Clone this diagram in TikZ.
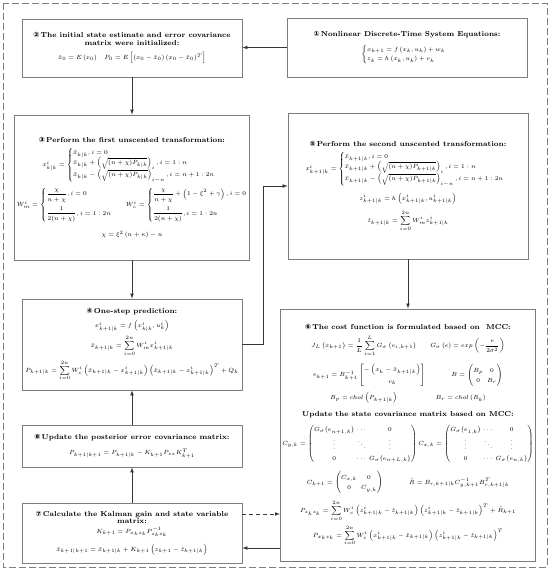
\documentclass[tikz,border=0pt]{standalone}
\usepackage{amsmath}
\usepackage{amssymb}
\usepackage{mathtools}
\usepackage{fontspec}
\usepackage{tikz}
\newfontfamily\circFont{DejaVu Sans}
\definecolor{boxColor}{RGB}{125,125,125}
\definecolor{arrowColor}{RGB}{55,55,55}
\newcommand{\boxFont}{\fontsize{6.2}{7.6}\selectfont\setlength{\arraycolsep}{2pt}\renewcommand{\arraystretch}{1.4}}
\newcommand{\titleFont}{\fontsize{7.2}{8.6}\selectfont\bfseries}
\tikzstyle{flowChart} = [x = 1pt, y = -1pt]
\tikzstyle{stepBoxStyle} = [draw=boxColor, fill=white, line width=0.8pt, inner xsep=2pt, inner ysep=2pt, align=center, font=\boxFont]
\tikzstyle{flowArrow} = [draw=arrowColor, line width=0.7pt, -latex]
\tikzstyle{feedbackArrow} = [flowArrow, dash pattern=on 4pt off 3pt]
\tikzstyle{outerFrame} = [draw=boxColor, line width=0.8pt, dash pattern=on 7pt off 3pt]
\newcommand{\stepTitle}[2]{{\titleFont{\circFont #1}\,#2}}
\newcommand{\gEntry}[1]{G_\sigma\!\left(e_{#1}\right)}
\newcommand{\diagMatrix}[2]{\setlength{\arraycolsep}{1pt}\begin{pmatrix}\gEntry{#1} & \cdots & 0\\ \vdots & \ddots & \vdots\\ 0 & \cdots & \gEntry{#2}\end{pmatrix}}
\newcommand{\stepBox}[6]{\node [stepBoxStyle, minimum width = #4pt, minimum height = #5pt] (#1) at (#2, #3) {#6};}

\begin{document}
\begin{tikzpicture}[flowChart]
  \useasboundingbox (0,0) rectangle (550,579);
  \draw [outerFrame] (3,3) rectangle (547,567);

  % left column
  \stepBox{init}{132}{48}{220}{58}{\stepTitle{②}{The initial state estimate and error covariance}\\ {\titleFont matrix were initialized:}\\[7pt]
    $\hat{x}_0=E\left(x_0\right)\quad P_0=E\left[\left(x_0-\hat{x}_0\right)\left(x_0-\hat{x}_0\right)^T\right]$}
  \stepBox{firstUT}{132}{187.5}{220}{145}{\stepTitle{③}{Perform the first unscented transformation:}\\[5pt]
    $x^i_{k|k}=\begin{cases}\bar{x}_{k|k},i=0\\ \bar{x}_{k|k}+\left(\sqrt{(n+\chi)P_{k|k}}\right)_i,i=1:n\\ \bar{x}_{k|k}-\left(\sqrt{(n+\chi)P_{k|k}}\right)_{i-n},i=n+1:2n\end{cases}$\\[5pt]
    $W^i_m=\begin{dcases}\frac{\chi}{n+\chi},i=0\\ \frac{1}{2(n+\chi)},i=1:2n\end{dcases}\qquad W^i_c=\begin{dcases}\frac{\chi}{n+\chi}+\left(1-\xi^2+\gamma\right),i=0\\ \frac{1}{2(n+\chi)},i=1:2n\end{dcases}$\\[8pt]
    $\chi=\xi^2\left(n+\kappa\right)-n$}
  \stepBox{predict}{132}{344.5}{220}{91}{\stepTitle{④}{One-step prediction:}\\[5pt]
    $x^i_{k+1|k}=f\left(x^i_{k|k},u^i_k\right)$\\[3pt]
    $\displaystyle\hat{x}_{k+1|k}=\sum_{i=0}^{2n}W^i_m x^i_{k+1|k}$\\[3pt]
    $\displaystyle P_{k+1|k}=\sum_{i=0}^{2n}W^i_c\left(\hat{x}_{k+1|k}-x^i_{k+1|k}\right)\left(\hat{x}_{k+1|k}-x^i_{k+1|k}\right)^T+Q_k$}
  \stepBox{posterior}{132}{446}{220}{42}{\stepTitle{⑧}{Update the posterior error covariance matrix:}\\[8pt]
    $P_{k+1|k+1}=P_{k+1|k}-K_{k+1}P_{zz}K^T_{k+1}$}
  \stepBox{kalman}{132}{533}{220}{60}{\stepTitle{⑦}{Calculate the Kalman gain and state variable}\\ {\titleFont matrix:}\\[2pt]
    $K_{k+1}=P_{x_k z_k}P^{-1}_{z_k z_k}$\\[6pt]
    $\hat{x}_{k+1|k+1}=\hat{x}_{k+1|k}+K_{k+1}\left(z_{k+1}-\hat{z}_{k+1|k}\right)$}

  % right column
  \stepBox{system}{407}{47.5}{240}{59}{\stepTitle{①}{Nonlinear Discrete-Time System Equations:}\\[6pt]
    $\begin{cases}x_{k+1}=f\left(x_k,u_k\right)+w_k\\ z_k=h\left(x_k,u_k\right)+v_k\end{cases}$}
  \stepBox{secondUT}{408}{186}{240}{146}{\stepTitle{⑤}{Perform the second unscented transformation:}\\[5pt]
    $x^i_{k+1|k}=\begin{cases}\bar{x}_{k+1|k},i=0\\ \bar{x}_{k+1|k}+\left(\sqrt{(n+\chi)P_{k+1|k}}\right)_i,i=1:n\\ \bar{x}_{k+1|k}-\left(\sqrt{(n+\chi)P_{k+1|k}}\right)_{i-n},i=n+1:2n\end{cases}$\\[6pt]
    $z^i_{k+1|k}=h\left(x^i_{k+1|k},u^i_{k+1|k}\right)$\\[5pt]
    $\displaystyle\hat{z}_{k+1|k}=\sum_{i=0}^{2n}W^i_m z^i_{k+1|k}$}
  \stepBox{cost}{408}{435}{240}{252}{\stepTitle{⑥}{The cost function is formulated based on\ \ MCC:}\\[5pt]
    $\displaystyle J_L\left(x_{k+1}\right)=\frac{1}{L}\sum_{i=1}^{L}G_\sigma\left(e_{i,k+1}\right)\qquad G_\sigma\left(e\right)=exp\left(-\frac{e}{2\sigma^2}\right)$\\[7pt]
    $e_{k+1}=B^{-1}_{k+1}\begin{bmatrix}-\left(x_k-\hat{x}_{k+1|k}\right)\\ v_k\end{bmatrix}\qquad\qquad B=\begin{pmatrix}B_p & 0\\ 0 & B_r\end{pmatrix}$\\[5pt]
    $B_p=chol\left(P_{k+1|k}\right)\qquad\qquad\qquad B_r=chol\left(R_k\right)$\\[7pt]
    {\titleFont Update the state covariance matrix based on MCC:}\\[5pt]
    $C_{y,k}=\diagMatrix{n+1,k}{n+L,k}C_{x,k}=\diagMatrix{1,k}{n,k}$\\[7pt]
    $C_{k+1}=\begin{pmatrix}C_{x,k} & 0\\ 0 & C_{y,k}\end{pmatrix}\qquad\qquad\hat{R}=B_{r,k+1|k}C^{-1}_{y,k+1}B^T_{r,k+1|k}$\\[6pt]
    $\displaystyle P_{z_k z_k}=\sum_{i=0}^{2n}W^i_c\left(z^i_{k+1|k}-\hat{z}_{k+1|k}\right)\left(z^i_{k+1|k}-\hat{z}_{k+1|k}\right)^T+\hat{R}_{k+1}$\\[3pt]
    $\displaystyle P_{x_k z_k}=\sum_{i=0}^{2n}W^i_c\left(x^i_{k+1|k}-\hat{x}_{k+1|k}\right)\left(z^i_{k+1|k}-\hat{z}_{k+1|k}\right)^T$}

  % connectors
  \coordinate (bendPoint) at (263, 186);
  \draw [flowArrow] (system.west) -- (system.west -| init.east);
  \draw [flowArrow] (init) -- (firstUT);
  \draw [flowArrow] (firstUT) -- (predict);
  \draw [flowArrow] (predict.east) -| (bendPoint) -- (secondUT.west);
  \draw [flowArrow] (secondUT) -- (cost);
  \draw [flowArrow] (posterior) -- (predict);
  \draw [flowArrow] (kalman) -- (posterior);
  \draw [feedbackArrow] ([yshift=19pt]kalman.east) -- ([yshift=19pt]kalman.east -| cost.west);
  \draw [flowArrow] ([yshift=-15pt]kalman.east -| cost.west) -- ([yshift=-15pt]kalman.east);
\end{tikzpicture}
\end{document}
